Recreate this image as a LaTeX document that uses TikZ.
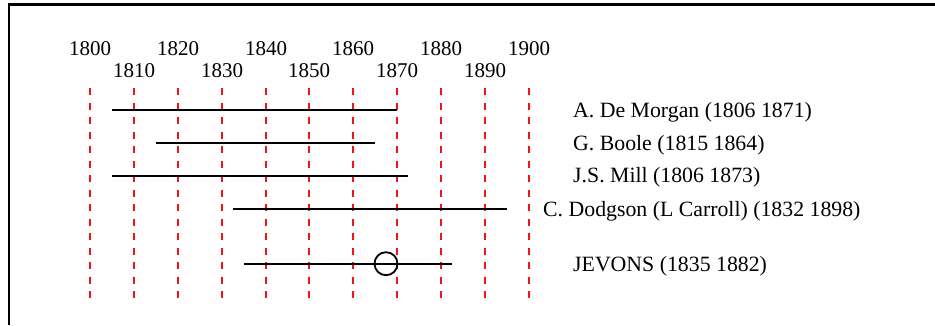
\documentclass[tikz,border=0pt]{standalone}
\usepackage{fontspec}
\setmainfont{Liberation Serif}
\definecolor{gridred}{RGB}{240,20,20}
\begin{document}
\begin{tikzpicture}[x=1pt,y=-1pt,
  frame/.style={line width=2.3pt,black},
  yeargrid/.style={draw=gridred,line width=1.2pt,dash pattern=on 7.3pt off 7.2pt},
  life/.style={line width=1.8pt,black},
  yearlbl/.style={anchor=base,inner sep=0pt,font=\fontsize{21}{24}\selectfont},
  namelbl/.style={anchor=base west,inner sep=0pt,font=\fontsize{21.8}{25}\selectfont},
  marker/.style={circle,draw,line width=1.8pt,minimum size=23pt,inner sep=0pt}]
\useasboundingbox (0,0) rectangle (935,325);
\draw[frame] (935,4.5) -- (9.2,4.5) -- (9.2,325);
% year grid
\coordinate (g0t) at (90,88);    \coordinate (g0b) at (90,300);
\coordinate (g1t) at (134,88);   \coordinate (g1b) at (134,300);
\coordinate (g2t) at (178,88);   \coordinate (g2b) at (178,300);
\coordinate (g3t) at (222,88);   \coordinate (g3b) at (222,300);
\coordinate (g4t) at (266,88);   \coordinate (g4b) at (266,300);
\coordinate (g5t) at (309,88);   \coordinate (g5b) at (309,300);
\coordinate (g6t) at (353,88);   \coordinate (g6b) at (353,300);
\coordinate (g7t) at (397,88);   \coordinate (g7b) at (397,300);
\coordinate (g8t) at (441,88);   \coordinate (g8b) at (441,300);
\coordinate (g9t) at (485,88);   \coordinate (g9b) at (485,300);
\coordinate (g10t) at (529,88);  \coordinate (g10b) at (529,300);
\foreach \i in {0,...,10}{
  \draw[yeargrid] (g\i t) -- (g\i b);
}
% year labels
\node[yearlbl] (y1800) at (90,55.7) {1800};
\node[yearlbl] (y1820) at (178,55.7) {1820};
\node[yearlbl] (y1840) at (266,55.7) {1840};
\node[yearlbl] (y1860) at (353,55.7) {1860};
\node[yearlbl] (y1880) at (441,55.7) {1880};
\node[yearlbl] (y1900) at (529,55.7) {1900};
\node[yearlbl] (y1810) at (134,77.7) {1810};
\node[yearlbl] (y1830) at (222,77.7) {1830};
\node[yearlbl] (y1850) at (309,77.7) {1850};
\node[yearlbl] (y1870) at (397,77.7) {1870};
\node[yearlbl] (y1890) at (485,77.7) {1890};
% lifelines
\coordinate (dmA) at (112,109.7);  \coordinate (dmB) at (397,109.7);
\coordinate (boA) at (156,143);    \coordinate (boB) at (375,143);
\coordinate (miA) at (112,175.7);  \coordinate (miB) at (408,175.7);
\coordinate (doA) at (233,209);    \coordinate (doB) at (507,209);
\coordinate (jeA) at (244,263.7);  \coordinate (jeB) at (452,263.7);
\draw[life] (dmA) -- (dmB);
\draw[life] (boA) -- (boB);
\draw[life] (miA) -- (miB);
\draw[life] (doA) -- (doB);
\draw[life] (jeA) -- (jeB);
\node[marker] (jmark) at (386,263.7) {};
% names
\node[namelbl] (nDM) at (573,117.5) {A. De Morgan (1806 1871)};
\node[namelbl] (nBO) at (573,150) {G. Boole (1815 1864)};
\node[namelbl] (nMI) at (573,182) {J.S. Mill (1806 1873)};
\node[namelbl] (nDO) at (543,216.5) {C. Dodgson (L Carroll) (1832 1898)};
\node[namelbl] (nJE) at (573,271.5) {JEVONS (1835 1882)};
\end{tikzpicture}
\end{document}
